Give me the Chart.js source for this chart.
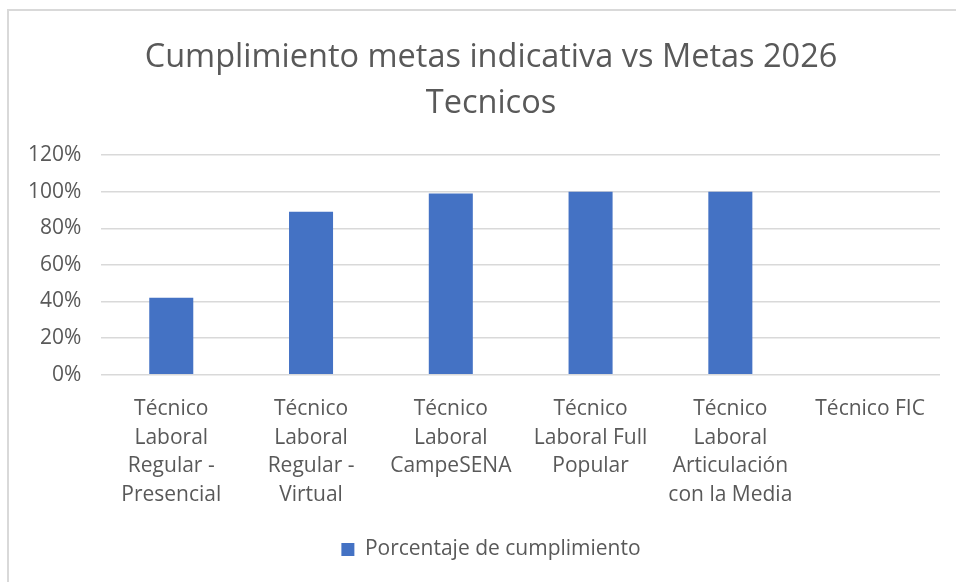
<!DOCTYPE html>
<html>
<head>
<meta charset="utf-8">
<script src="https://cdn.jsdelivr.net/npm/chart.js@4.4.1/dist/chart.umd.min.js"></script>
<style>
    html, body { margin: 0; padding: 0; background: #fff; }
    #wrap { position: relative; width: 956px; height: 582px; overflow: hidden; }
    #frame {
        position: absolute; left: 7px; top: 9px; width: 960px; height: 580px;
        border-top: 2px solid #d9d9d9; border-left: 2px solid #d9d9d9;
        pointer-events: none;
    }
</style>
</head>
<body>
<div id="wrap">
    <canvas id="metasChart" width="956" height="582"></canvas>
    <div id="frame"></div>
</div>
<script>
const categories = [
    ['Técnico', 'Laboral', 'Regular -', 'Presencial'],
    ['Técnico', 'Laboral', 'Regular -', 'Virtual'],
    ['Técnico', 'Laboral', 'CampeSENA'],
    ['Técnico', 'Laboral Full', 'Popular'],
    ['Técnico', 'Laboral', 'Articulación', 'con la Media'],
    'Técnico FIC'
];
const cumplimiento = [42, 89, 99, 100, 100, 0];
const seriesName = 'Porcentaje de cumplimiento';
const titleLines = ['Cumplimiento metas indicativa vs Metas 2026', 'Tecnicos'];

const textColor = '#595959';
const fontFamily = "'Open Sans', 'Liberation Sans', sans-serif";

// title and legend sit a bit right of the canvas centre in the original
const boxShift = {
    id: 'boxShift',
    beforeDraw(chart) {
        [chart.titleBlock, chart.legend].forEach(function(box) {
            if (box && !box._shifted) {
                box.left += 17;
                box.right += 17;
                box._shifted = true;
            }
        });
    }
};

const ctx = document.getElementById('metasChart').getContext('2d');

const metasChart = new Chart(ctx, {
    type: 'bar',
    data: {
        labels: categories,
        datasets: [{
            label: seriesName,
            data: cumplimiento,
            backgroundColor: '#4472c4',
            borderWidth: 0,
            barPercentage: 0.315,
            categoryPercentage: 1
        }]
    },
    options: {
        responsive: false,
        animation: false,
        layout: {
            padding: { left: 8, right: 16, top: 0, bottom: 12 }
        },
        plugins: {
            title: {
                display: true,
                text: titleLines,
                color: textColor,
                font: { family: fontFamily, size: 32.5, weight: 'normal', lineHeight: 1.4 },
                padding: { top: 35, bottom: 29 }
            },
            legend: {
                position: 'bottom',
                labels: {
                    color: textColor,
                    font: { family: fontFamily, size: 21 },
                    boxWidth: 13,
                    boxHeight: 13,
                    padding: 10
                }
            },
            tooltip: { enabled: false }
        },
        scales: {
            x: {
                grid: { display: false, drawTicks: false },
                border: { display: false },
                ticks: {
                    color: textColor,
                    font: { family: fontFamily, size: 21, lineHeight: 1.36 },
                    padding: 20,
                    maxRotation: 0,
                    autoSkip: false
                }
            },
            y: {
                min: 0,
                max: 120,
                grid: { color: '#d9d9d9', lineWidth: 1.5, drawTicks: false },
                border: { display: false },
                ticks: {
                    stepSize: 20,
                    color: textColor,
                    font: { family: fontFamily, size: 21 },
                    padding: 20,
                    callback: function(value) {
                        return value + '%';
                    }
                }
            }
        }
    },
    plugins: [boxShift]
});
</script>
</body>
</html>
